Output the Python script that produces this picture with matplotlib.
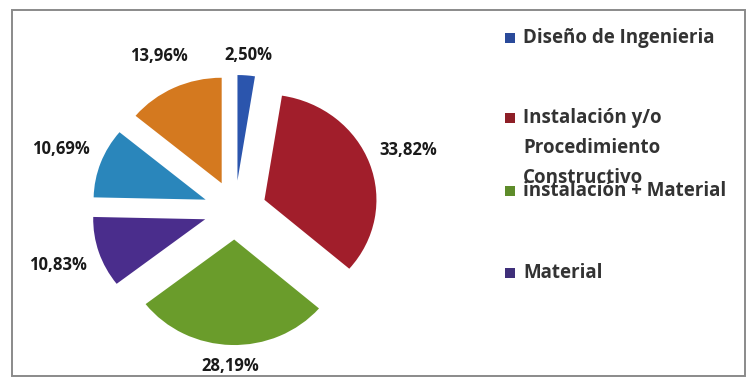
import numpy as np
import matplotlib.pyplot as plt
from matplotlib.patches import Rectangle

# shares per category (clockwise from 12 o'clock)
categorias = ['Diseño de Ingenieria', 'Instalación y/o Procedimiento Constructivo',
              'instalación + Material', 'Material', 'Otros 1', 'Otros 2']
porcentajes = [2.50, 33.82, 28.19, 10.83, 10.69, 13.96]
etiquetas = ['2,50%', '33,82%', '28,19%', '10,83%', '10,69%', '13,96%']

colores = ['#2b55ad', '#a11e2b', '#6a9c2b', '#4a2d8c', '#2a86bb', '#d4791f']
legend_colores = ['#2a4a9a', '#8e1f27', '#5e8c2a', '#3f2f7a']
# distance of each value label from the centre (in radii)
dist_label = [1.47, 1.65, 1.48, 1.66, 1.66, 1.61]

W, H = 746, 378
fig = plt.figure(figsize=(W / 100, H / 100), dpi=100)
fig.patch.set_facecolor('white')

# outer frame
fig.patches.append(Rectangle((12 / W, 2 / H), (W - 13) / W, (H - 12) / H,
                             transform=fig.transFigure, fill=False,
                             edgecolor='#8a8a8a', linewidth=1.4))

# pie axes: centre (235, 210) px, slightly wider than tall
cx, cy, rx, ry = 235, 210, 112, 105.5
half = 185
ax = fig.add_axes([(cx - half) / W, (H - cy - half) / H, 2 * half / W, 2 * half / H])

wedges, _ = ax.pie(porcentajes, colors=colores, startangle=90, counterclock=False,
                   explode=[0.28] * len(porcentajes), radius=1.0,
                   wedgeprops=dict(linewidth=0))
# pie() resets the limits, so set them afterwards
ax.set_aspect('auto')
ax.set_xlim(-half / rx, half / rx)
ax.set_ylim(-half / ry, half / ry)
ax.axis('off')

for w, txt, d in zip(wedges, etiquetas, dist_label):
    ang = np.deg2rad((w.theta1 + w.theta2) / 2)
    ax.text(d * np.cos(ang), d * np.sin(ang), txt, ha='center', va='center',
            fontsize=12, fontweight='bold', family=['Open Sans', 'DejaVu Sans'],
            color='#1a1a1a')

# legend (only the first four entries fit in the box)
leg_x = 510 / W
entradas = [
    (0, 38, ['Diseño de Ingenieria']),
    (1, 118, ['Instalación y/o', 'Procedimiento', 'Constructivo']),
    (2, 191, ['instalación + Material']),
    (3, 273, ['Material']),
]
for idx, y0, lineas in entradas:
    fig.patches.append(Rectangle((leg_x - 5 / W, 1 - (y0 + 5) / H), 10 / W, 10 / H,
                                 transform=fig.transFigure,
                                 facecolor=legend_colores[idx], edgecolor='none'))
    for k, linea in enumerate(lineas):
        fig.text(523 / W, 1 - (y0 + k * 30) / H, linea, ha='left', va='center',
                 fontsize=13.5, fontweight='bold',
                 family=['Open Sans', 'DejaVu Sans'], color='#333333')

fig.savefig('out.png', dpi=100, facecolor='white')
